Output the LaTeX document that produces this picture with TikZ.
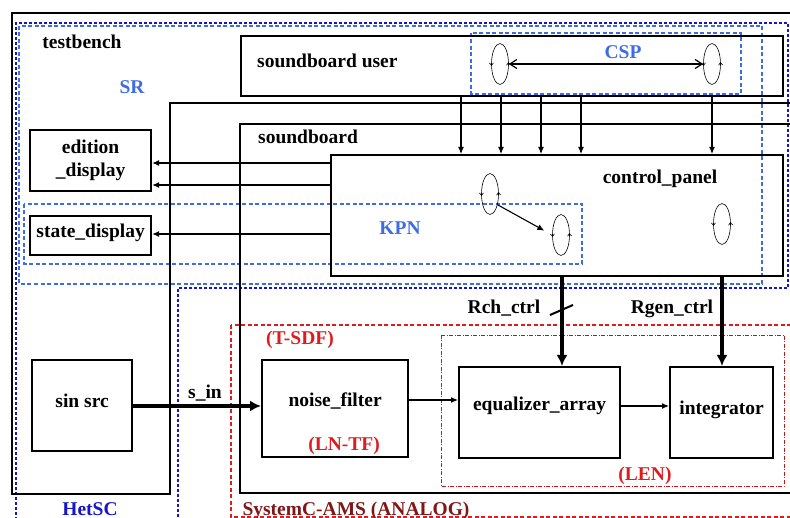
\documentclass[tikz,border=0pt]{standalone}
\usepackage{fontspec}
\setmainfont{Liberation Serif}
\usetikzlibrary{arrows.meta,shapes.geometric,decorations.markings,positioning,calc}
\definecolor{srblue}{RGB}{62,108,228}
\definecolor{hetblue}{RGB}{22,22,200}
\definecolor{amsred}{RGB}{222,28,32}
\definecolor{amsdark}{RGB}{128,22,22}
\tikzset{
  lbl/.style={font=\bfseries\fontsize{19.5}{23}\selectfont, inner sep=0pt, anchor=base},
  blk/.style={draw, line width=2.2pt, anchor=north west, inner sep=0pt, align=center,
    font=\bfseries\fontsize{19.5}{23}\selectfont},
  mid/.style={text height=13pt, text depth=9pt},
  frame/.style={line width=2.6pt},
  proc/.style={ellipse, draw, line width=0.6pt, minimum width=17pt, minimum height=41pt, inner sep=0pt,
    postaction={decorate, decoration={markings,
      mark=at position 0.02 with {\arrow{Straight Barb[length=2.5pt,width=4pt]}},
      mark=at position 0.52 with {\arrow{Straight Barb[length=2.5pt,width=4pt]}}}}},
  sig/.style={-{Latex[length=7pt,width=6pt]}, line width=1.1pt},
  ctl/.style={-{Latex[length=11pt,width=11pt]}, line width=3.6pt},
  srbox/.style={srblue, dash pattern=on 4pt off 2.5pt, line width=1.1pt},
  hetsc/.style={hetblue, dash pattern=on 3pt off 2pt, line width=1.1pt},
  tsdf/.style={amsred, dash pattern=on 4pt off 2.5pt, line width=1.1pt},
  lenbox/.style={amsred!85!black, dash pattern=on 4pt off 1.5pt on 1pt off 1.5pt, line width=0.9pt},
}
\begin{document}
\begin{tikzpicture}[x=1pt,y=-1pt]
\useasboundingbox (0,0) rectangle (790,518);
\clip (0,0) rectangle (790,518);
% Regions (models of computation)
\draw[hetsc] (16,530) -- (16,23) -- (788,23) -- (788,288) -- (178,288) -- (178,530);
\draw[srbox] (19,26) rectangle (762,284);
\draw[srbox] (24,204) rectangle (582,264);
\draw[srbox] (471,33) rectangle (741,94);
\draw[tsdf] (231,325) rectangle (800,517);
\draw[lenbox] (441,335) rectangle (784,486);

% Hierarchy frames
\draw[frame] (800,13) -- (12,13) -- (12,494) -- (170,494) -- (170,103) -- (800,103);
\draw[frame] (800,124) -- (240,124) -- (240,493) -- (800,493);

% Blocks
\node[blk, minimum width=542pt, minimum height=60pt] (user) at (240,35) {};
\node[blk, minimum width=452pt, minimum height=121pt] (cp) at (330,154) {};
\node[blk, minimum width=121pt, minimum height=61pt] (ed) at (29,129) {edition\\\_display};
\node[blk, mid, minimum width=121pt, minimum height=39pt] (st) at (29,215) {state\_display};
\node[blk, mid, minimum width=100pt, minimum height=91pt] (sin) at (31,359) {sin src};
\node[blk, mid, text depth=18pt, minimum width=146pt, minimum height=97pt] (nf) at (261,359) {noise\_filter};
\node[blk, mid, text depth=18pt, minimum width=161pt, minimum height=91pt] (eq) at (458,366) {equalizer\_array};
\node[blk, mid, minimum width=103pt, minimum height=91pt] (integ) at (669,366) {integrator};

% Processes
\node[proc] (p1) at (500,64) {};
\node[proc] (p2) at (712,64) {};
\node[proc] (p3) at (490,194) {};
\node[proc] (p4) at (561,235) {};
\node[proc] (p5) at (722,224) {};

% Labels
\node[lbl] (tb) at (82,49) {testbench};
\node[lbl, srblue] (sr) at (132,94) {SR};
\node[lbl, anchor=base west] (usertxt) at (257,68) {soundboard user};
\node[lbl, srblue] (csp) at (623,59) {CSP};
\node[lbl, anchor=base west] (sbtxt) at (258,144) {soundboard};
\node[lbl] (cptxt) at (660,184) {control\_panel};
\node[lbl, srblue] (kpn) at (400,235) {KPN};
\node[lbl] (rch) at (504,314) {Rch\_ctrl};
\node[lbl] (rgen) at (672,314) {Rgen\_ctrl};
\node[lbl, amsred] (tsdftxt) at (300,345) {(T-SDF)};
\node[lbl] (sintxt) at (205,399) {s\_in};
\node[lbl, amsred] (lntf) at (344,450) {(LN-TF)};
\node[lbl, amsred] (lentxt) at (645,480) {(LEN)};
\node[lbl, hetblue] (het) at (90,515) {HetSC};
\node[lbl, amsdark] (ams) at (356,515) {SystemC-AMS (ANALOG)};

% Connectors
\draw[{Straight Barb[length=7pt,width=9pt]}-{Straight Barb[length=7pt,width=9pt]}, line width=1.2pt] (p1.east) -- (p2.west);
\draw[sig, shorten >=9pt] (p3.-55) -- (p4.west);
\foreach \x in {461,501,541,581,712}
  \draw[sig] (user.south -| \x,0) -- (cp.north -| \x,0);
\foreach \y in {163,185}
  \draw[sig] (cp.west |- 0,\y) -- (ed.east |- 0,\y);
\draw[sig] (cp.west |- 0,234) -- (st.east |- 0,234);
\draw[ctl] (sin.east |- 0,406) -- (nf.west |- 0,406);
\draw[sig] (nf.east |- 0,400) -- (eq.west |- 0,400);
\draw[sig] (eq.east |- 0,406) -- (integ.west |- 0,406);
\draw[ctl] (cp.south -| 562,0) -- (eq.north -| 562,0);
\draw[ctl] (cp.south -| 722,0) -- (integ.north -| 722,0);
\draw[line width=2pt] (550,315) -- (573,305);
\end{tikzpicture}
\end{document}
